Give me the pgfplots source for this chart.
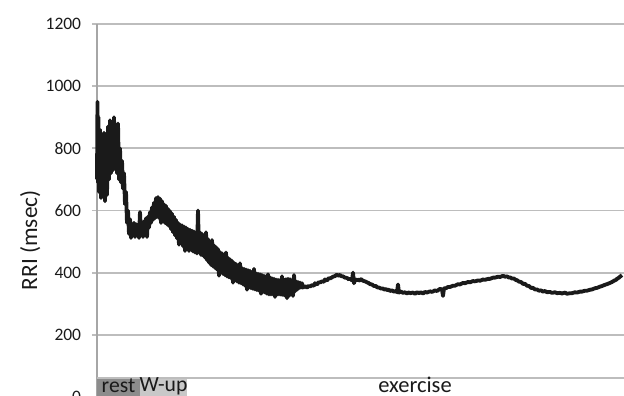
\documentclass[border=0pt]{standalone}
\usepackage{fontspec}
\setmainfont{Carlito}
\usepackage{pgfplots}
\pgfplotsset{compat=1.18}

\definecolor{gridgray}{HTML}{BDBDBD}
\definecolor{axisgray}{HTML}{A6A6A6}
\definecolor{restgray}{HTML}{8C8C8C}
\definecolor{wupgray}{HTML}{C8C8C8}
\definecolor{ink}{HTML}{1A1A1A}

\begin{document}
\begin{tikzpicture}
\useasboundingbox (0,0) rectangle (374.4pt,237.6pt);
\begin{scope}
\clip (0,0) rectangle (374.4pt,237.6pt);
\begin{axis}[
  at={(58.2pt,-0.6pt)}, anchor=south west,
  scale only axis,
  width=318pt, height=223.8pt,
  xmin=0, xmax=530,
  ymin=0, ymax=1200,
  ytick={0,200,400,600,800,1000,1200},
  xtick=\empty,
  ymajorgrids,
  grid style={gridgray, line width=1.1pt},
  axis line style={draw=none},
  separate axis lines,
  y axis line style={axisgray, line width=0.8pt, draw},
  tick align=outside,
  major tick length=3pt,
  ytick style={gridgray, line width=1.1pt},
  yticklabel style={font=\fontsize{10.5}{12}\selectfont, text=ink, xshift=-3pt},
  /pgf/number format/assume math mode=true,
  /pgf/number format/1000 sep={},
  ylabel={RRI (msec)},
  ylabel style={font=\fontsize{14}{16}\selectfont, text=ink,
    at={(axis description cs:-0.126,0.42)}, anchor=center},
  clip=false,
]
% phase band along the bottom of the plot
\fill[restgray] (axis cs:0,0) rectangle (axis cs:43,60);
\fill[wupgray] (axis cs:43,0) rectangle (axis cs:90,60);
\draw[gridgray, line width=1.1pt] (axis cs:0,60) -- (axis cs:540,60);
\node[font=\fontsize{13}{14}\selectfont, text=ink, inner sep=0pt] at (axis cs:21.5,36) {rest};
\node[font=\fontsize{13}{14}\selectfont, text=ink, inner sep=0pt] at (axis cs:66.5,36) {W-up};
\node[font=\fontsize{13.5}{14}\selectfont, text=ink, inner sep=0pt] at (axis cs:318,40) {exercise};

% RR interval series: sample index vs. RRI in msec
\addplot[ink, line width=2.3pt, line join=round] coordinates {
(0,700) (0.5,950) (1,690) (1.5,900) (2,660) (3,860) (4,640) (5,840)
(6,700) (7,850) (8,630) (9,780) (10,650) (11,870) (12,700) (13,890)
(14,720) (15,880) (16,730) (17,900) (18,740) (19,870) (20,720) (21,880)
(22,700) (23,800) (24,690) (25,760) (26,670) (27,720) (28,620) (29,660)
(30,560) (31,600) (32,525) (33,572) (34,512) (35,556) (36,520) (37,560)
(38,515) (39,556) (40,520) (41,555) (42,512) (43,595) (44,525) (45,560)
(46,515) (47,565) (48,530) (49,575) (50,515) (51,580) (52,545) (53,595)
(54,560) (55,610) (56,570) (57,625) (58,575) (59,640) (60,580) (61,643)
(62,576) (63,638) (64,560) (65,630) (66,565) (67,620) (68,560) (69,615)
(70,555) (71,605) (72,550) (73,598) (74,540) (75,590) (76,530) (77,580)
(78,520) (79,570) (80,510) (81,560) (82,490) (83,555) (84,495) (85,552)
(86,485) (87,548) (88,470) (89,545) (90,480) (91,540) (92,470) (93,538)
(94,475) (95,535) (96,468) (97,532) (98,465) (99,530) (100,462) (101,600)
(102,465) (103,530) (104,457) (105,525) (106,455) (107,520) (108,448) (109,530)
(110,440) (111,508) (112,432) (113,498) (114,425) (115,505) (116,420) (117,488)
(118,415) (119,482) (120,410) (121,476) (122,390) (123,466) (124,400) (125,462)
(126,396) (127,458) (128,392) (129,465) (130,388) (131,448) (132,385) (133,443)
(134,382) (135,438) (136,368) (137,432) (138,375) (139,428) (140,372) (141,422)
(142,368) (143,430) (144,366) (145,415) (146,362) (147,412) (148,358) (149,410)
(150,345) (151,408) (152,352) (153,406) (154,350) (155,402) (156,348) (157,412)
(158,346) (159,398) (160,344) (161,396) (162,342) (163,395) (164,332) (165,392)
(166,338) (167,390) (168,336) (169,388) (170,332) (171,395) (172,330) (173,385)
(174,330) (175,382) (176,330) (177,380) (178,322) (179,378) (180,329) (181,377)
(182,330) (183,376) (184,329) (185,388) (186,328) (187,378) (188,326) (189,379)
(190,318) (191,380) (192,325) (193,379) (194,330) (195,375) (196,325) (197,392)
(198,340) (199,372) (200,345) (201,370) (202,350) (203,368) (204,352) (205,366)
(206,352) (208,357)
(210,352) (212,358) (213,355) (215,360) (217,358) (218,366) (220,362) (222,370)
(223,368) (225,372) (227,371) (228,378) (230,375) (232,383) (233,381) (236,387)
(238,389) (240,394) (241,390) (243,393) (244,389) (246,388) (248,384) (250,383)
(252,378) (253,381) (255,375) (256,400) (257,366) (258,379) (260,375) (261,378)
(263,374) (264,379) (266,374) (268,372) (270,369) (272,366) (273,363) (275,362)
(277,357) (279,357) (280,353) (282,352) (284,349) (286,349) (287,346) (289,347)
(290,344) (292,345) (293,341) (295,343) (297,339) (299,341) (300,337) (301,362)
(302,336) (304,339) (306,335) (308,337) (310,333) (312,337) (313,334) (316,336)
(318,332) (320,337) (322,334) (324,337) (326,333) (328,338) (330,336) (333,340)
(335,338) (338,343) (340,341) (343,348) (345,346) (346,325) (347,350) (349,350)
(351,354) (353,354) (356,358) (358,358) (361,363) (363,362) (366,367) (368,366)
(371,370) (373,369) (376,373) (378,372) (381,375) (383,374) (386,378) (388,377)
(391,380) (393,380) (396,384) (398,384) (401,387) (403,386) (406,390) (408,387)
(410,388) (412,384) (413,385) (415,381) (417,381) (419,376) (420,376) (422,371)
(424,370) (426,364) (428,364) (430,358) (432,357) (434,351) (436,351) (438,346)
(440,346) (442,342) (444,343) (446,339) (448,341) (450,337) (453,338) (455,335)
(458,337) (460,334) (463,335) (465,333) (468,336) (470,332) (473,334) (475,334)
(478,337) (480,336) (483,339) (485,339) (488,342) (490,342) (493,345) (495,346)
(498,350) (500,351) (503,355) (505,357) (508,361) (510,363) (513,367) (515,370)
(517,374) (519,377) (520,380) (522,384) (523,387) (525,392)
};
\end{axis}
\end{scope}
\end{tikzpicture}
\end{document}
